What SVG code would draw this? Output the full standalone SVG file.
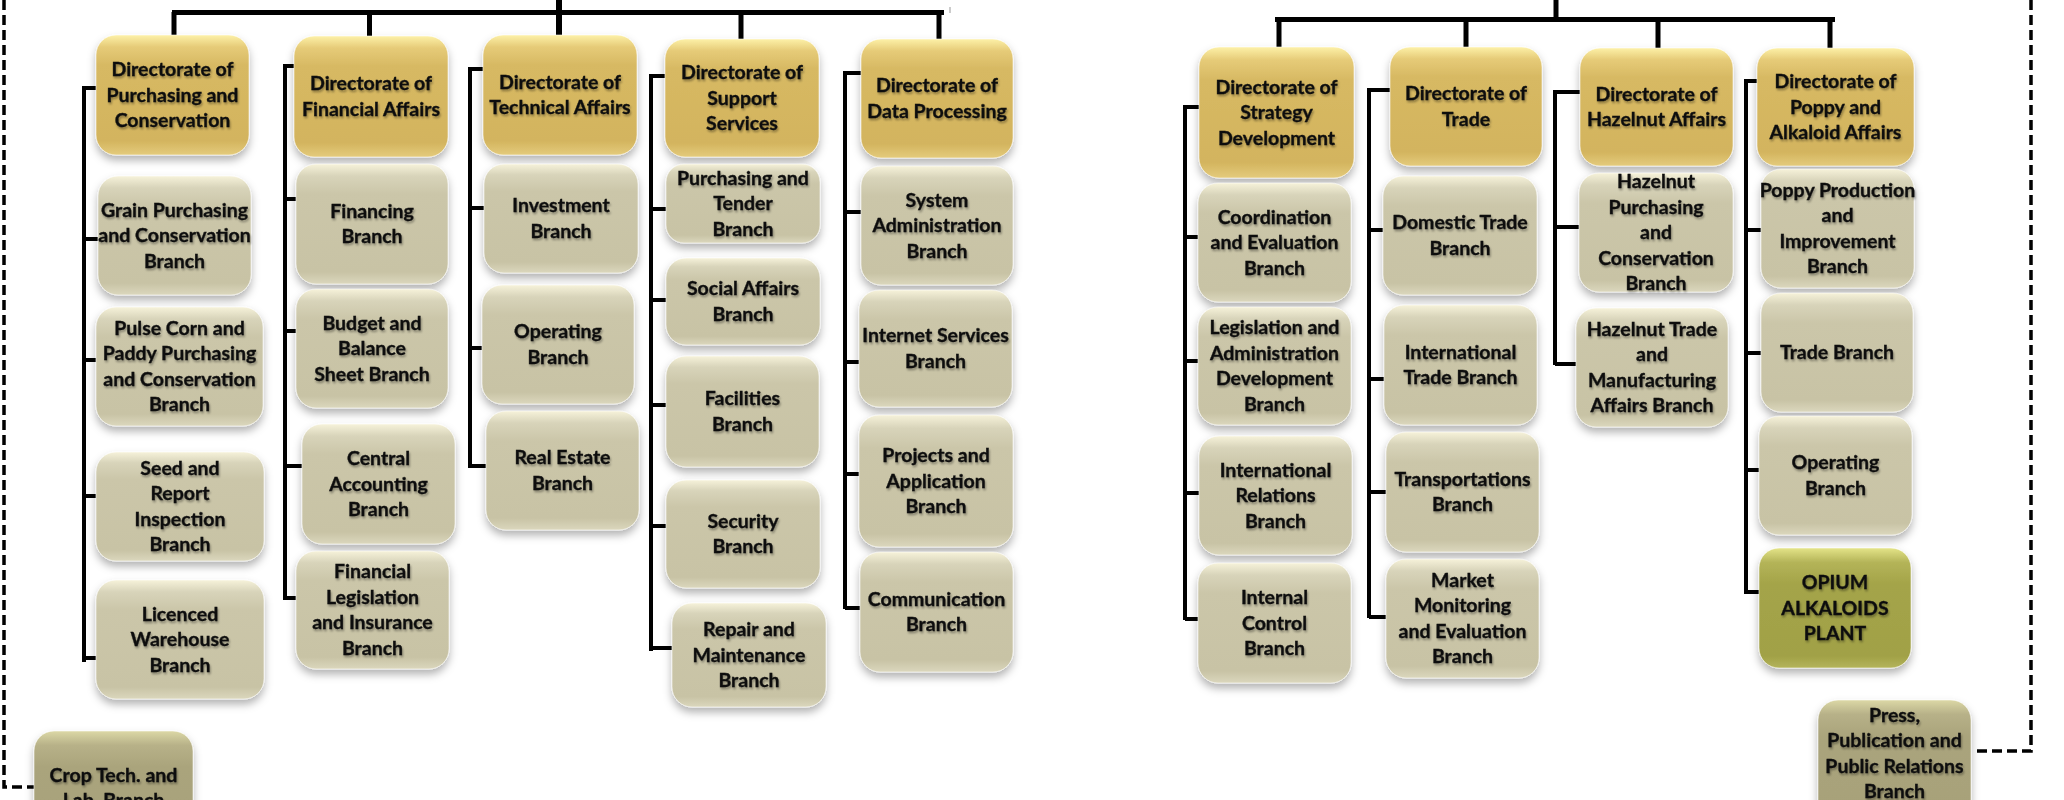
<svg xmlns="http://www.w3.org/2000/svg" width="2064" height="800" viewBox="0 0 2064 800">
<style>
.t{font-family:Lato,"Liberation Sans",sans-serif;font-weight:bold;font-size:19.5px;fill:#111;stroke:#111;stroke-width:0.35;text-anchor:middle;filter:url(#ts)}
.box{stroke:#ffffff;stroke-opacity:0.55;stroke-width:1;filter:url(#sh)}
.dir{fill:url(#gDir)}
.br{fill:url(#gBr)}
.op{fill:url(#gOp)}
.pr{fill:url(#gPr)}
.ln{stroke:#000;stroke-width:4;fill:none}
.bar{stroke:#000;stroke-width:5;fill:none}
.dash{stroke:#000;stroke-width:3.5;fill:none;stroke-dasharray:10 5}
</style>
<defs>
<filter id="sh" x="-10%" y="-10%" width="120%" height="130%">
<feDropShadow dx="0" dy="5" stdDeviation="4" flood-color="#000" flood-opacity="0.3"/>
</filter>
<filter id="ts" x="-10%" y="-20%" width="120%" height="140%">
<feGaussianBlur in="SourceAlpha" stdDeviation="1.3" result="b"/>
<feOffset dx="1" dy="1.5" in="b" result="o"/>
<feComponentTransfer in="o" result="o2"><feFuncA type="linear" slope="0.35"/></feComponentTransfer>
<feMerge><feMergeNode in="o2"/><feMergeNode in="SourceGraphic"/></feMerge>
</filter>
<linearGradient id="gDir" x1="0" y1="0" x2="0" y2="1">
<stop offset="0" stop-color="#fdf1a8"/><stop offset="0.1" stop-color="#e6cb78"/><stop offset="0.25" stop-color="#d7b963"/><stop offset="0.88" stop-color="#d3b45e"/><stop offset="1" stop-color="#e4cb7c"/>
</linearGradient>
<linearGradient id="gBr" x1="0" y1="0" x2="0" y2="1">
<stop offset="0" stop-color="#f6f2da"/><stop offset="0.1" stop-color="#d8d4ba"/><stop offset="0.25" stop-color="#cbc6a9"/><stop offset="0.9" stop-color="#c8c3a5"/><stop offset="1" stop-color="#dbd7bd"/>
</linearGradient>
<linearGradient id="gOp" x1="0" y1="0" x2="0" y2="1">
<stop offset="0" stop-color="#e4e488"/><stop offset="0.12" stop-color="#b4b458"/><stop offset="0.3" stop-color="#a4a449"/><stop offset="0.9" stop-color="#a1a146"/><stop offset="1" stop-color="#b4b45c"/>
</linearGradient>
<linearGradient id="gPr" x1="0" y1="0" x2="0" y2="1">
<stop offset="0" stop-color="#dcd8a6"/><stop offset="0.12" stop-color="#b7b188"/><stop offset="0.3" stop-color="#aaa47c"/><stop offset="1" stop-color="#a7a179"/>
</linearGradient>
</defs>
<rect width="2064" height="800" fill="#fff"/>

<g id="connectors">
<path class="dash" d="M4,0 V787 H34"/>
<path class="dash" d="M2031,0 V751 H1975"/>
<path class="bar" d="M172,12.5 H944"/>
<path d="M559,0 V38" stroke="#000" stroke-width="6"/>
<path class="bar" d="M174,12 V38 M369.5,15 V36 M741,15 V39 M939,15 V39"/>
<path d="M950,7 V13" stroke="#999" stroke-width="1"/>
<path class="ln" d="M84,86 V662 M84,88 H97 M84,239 H98 M84,360 H97 M84,496 H97 M84,658 H97"/>
<path class="ln" d="M285,64 V600 M285,66 H297 M285,199 H297 M285,331 H297 M285,466 H302 M285,598 H297"/>
<path class="ln" d="M470,67 V468 M470,69 H485 M470,208 H485 M470,348 H483 M470,466 H487"/>
<path class="ln" d="M651,74 V651 M651,76 H666 M651,209 H667 M651,300 H667 M651,405 H667 M651,526 H667 M651,648 H673"/>
<path class="ln" d="M845,71 V609 M845,73 H862 M845,212 H862 M845,362 H860 M845,474 H860 M845,608 H861"/>
<path class="bar" d="M1275,19.5 H1835"/>
<path d="M1556,0 V19" stroke="#000" stroke-width="5"/>
<path class="bar" d="M1279,22 V47 M1466,22 V47 M1658,22 V48 M1830,22 V48"/>
<path class="ln" d="M1185,105 V620 M1185,107 H1200 M1185,237 H1199 M1185,361 H1199 M1185,493 H1200 M1185,619 H1199"/>
<path class="ln" d="M1369,88 V618 M1369,90 H1391 M1369,230 H1384 M1369,379 H1385 M1369,492 H1387 M1369,617 H1387"/>
<path class="ln" d="M1555,90 V365 M1555,92 H1581 M1555,227 H1580 M1555,364 H1577"/>
<path class="ln" d="M1746,79 V594 M1746,81 H1758 M1746,230 H1762 M1746,353 H1762 M1746,470 H1760 M1746,592 H1760"/>
</g>

<g id="n-dir-purchasing"><rect class="box dir" x="96" y="35" width="153" height="120" rx="20"/><text class="t" x="172.5" y="76"><tspan x="172.5">Directorate of</tspan><tspan x="172.5" dy="25.5">Purchasing and</tspan><tspan x="172.5" dy="25.5">Conservation</tspan></text></g>
<g id="n-dir-financial"><rect class="box dir" x="294" y="36" width="154" height="121" rx="20"/><text class="t" x="371" y="90.25"><tspan x="371">Directorate of</tspan><tspan x="371" dy="25.5">Financial Affairs</tspan></text></g>
<g id="n-dir-technical"><rect class="box dir" x="483" y="35" width="154" height="120" rx="20"/><text class="t" x="560" y="88.75"><tspan x="560">Directorate of</tspan><tspan x="560" dy="25.5">Technical Affairs</tspan></text></g>
<g id="n-dir-support"><rect class="box dir" x="665" y="39" width="154" height="118" rx="20"/><text class="t" x="742" y="79"><tspan x="742">Directorate of</tspan><tspan x="742" dy="25.5">Support</tspan><tspan x="742" dy="25.5">Services</tspan></text></g>
<g id="n-dir-data"><rect class="box dir" x="861" y="39" width="152" height="119" rx="20"/><text class="t" x="937" y="92.25"><tspan x="937">Directorate of</tspan><tspan x="937" dy="25.5">Data Processing</tspan></text></g>

<g id="n-grain"><rect class="box br" x="98" y="176" width="153" height="119" rx="20"/><text class="t" x="174.5" y="216.5"><tspan x="174.5">Grain Purchasing</tspan><tspan x="174.5" dy="25.5">and Conservation</tspan><tspan x="174.5" dy="25.5">Branch</tspan></text></g>
<g id="n-pulse"><rect class="box br" x="96" y="307" width="167" height="119" rx="20"/><text class="t" x="179.5" y="334.75"><tspan x="179.5">Pulse Corn and</tspan><tspan x="179.5" dy="25.5">Paddy Purchasing</tspan><tspan x="179.5" dy="25.5">and Conservation</tspan><tspan x="179.5" dy="25.5">Branch</tspan></text></g>
<g id="n-seed"><rect class="box br" x="96" y="452" width="168" height="109" rx="20"/><text class="t" x="180" y="474.75"><tspan x="180">Seed and</tspan><tspan x="180" dy="25.5">Report</tspan><tspan x="180" dy="25.5">Inspection</tspan><tspan x="180" dy="25.5">Branch</tspan></text></g>
<g id="n-licenced"><rect class="box br" x="96" y="580" width="168" height="119" rx="20"/><text class="t" x="180" y="620.5"><tspan x="180">Licenced</tspan><tspan x="180" dy="25.5">Warehouse</tspan><tspan x="180" dy="25.5">Branch</tspan></text></g>

<g id="n-financing"><rect class="box br" x="296" y="164" width="152" height="120" rx="20"/><text class="t" x="372" y="217.75"><tspan x="372">Financing</tspan><tspan x="372" dy="25.5">Branch</tspan></text></g>
<g id="n-budget"><rect class="box br" x="296" y="289" width="152" height="119" rx="20"/><text class="t" x="372" y="329.5"><tspan x="372">Budget and</tspan><tspan x="372" dy="25.5">Balance</tspan><tspan x="372" dy="25.5">Sheet Branch</tspan></text></g>
<g id="n-central"><rect class="box br" x="302" y="424" width="153" height="120" rx="20"/><text class="t" x="378.5" y="465"><tspan x="378.5">Central</tspan><tspan x="378.5" dy="25.5">Accounting</tspan><tspan x="378.5" dy="25.5">Branch</tspan></text></g>
<g id="n-finleg"><rect class="box br" x="296" y="551" width="153" height="118" rx="20"/><text class="t" x="372.5" y="578.25"><tspan x="372.5">Financial</tspan><tspan x="372.5" dy="25.5">Legislation</tspan><tspan x="372.5" dy="25.5">and Insurance</tspan><tspan x="372.5" dy="25.5">Branch</tspan></text></g>

<g id="n-investment"><rect class="box br" x="484" y="164" width="154" height="109" rx="20"/><text class="t" x="561" y="212.25"><tspan x="561">Investment</tspan><tspan x="561" dy="25.5">Branch</tspan></text></g>
<g id="n-operating-tech"><rect class="box br" x="482" y="285" width="152" height="119" rx="20"/><text class="t" x="558" y="338.25"><tspan x="558">Operating</tspan><tspan x="558" dy="25.5">Branch</tspan></text></g>
<g id="n-realestate"><rect class="box br" x="486" y="411" width="153" height="119" rx="20"/><text class="t" x="562.5" y="464.25"><tspan x="562.5">Real Estate</tspan><tspan x="562.5" dy="25.5">Branch</tspan></text></g>

<g id="n-purchtender"><rect class="box br" x="666" y="164" width="154" height="79" rx="18"/><text class="t" x="743" y="184.5"><tspan x="743">Purchasing and</tspan><tspan x="743" dy="25.5">Tender</tspan><tspan x="743" dy="25.5">Branch</tspan></text></g>
<g id="n-social"><rect class="box br" x="666" y="258" width="154" height="87" rx="20"/><text class="t" x="743" y="295.25"><tspan x="743">Social Affairs</tspan><tspan x="743" dy="25.5">Branch</tspan></text></g>
<g id="n-facilities"><rect class="box br" x="666" y="356" width="153" height="111" rx="20"/><text class="t" x="742.5" y="405.25"><tspan x="742.5">Facilities</tspan><tspan x="742.5" dy="25.5">Branch</tspan></text></g>
<g id="n-security"><rect class="box br" x="666" y="480" width="154" height="108" rx="20"/><text class="t" x="743" y="527.75"><tspan x="743">Security</tspan><tspan x="743" dy="25.5">Branch</tspan></text></g>
<g id="n-repair"><rect class="box br" x="672" y="603" width="154" height="104" rx="20"/><text class="t" x="749" y="636"><tspan x="749">Repair and</tspan><tspan x="749" dy="25.5">Maintenance</tspan><tspan x="749" dy="25.5">Branch</tspan></text></g>

<g id="n-sysadmin"><rect class="box br" x="861" y="166" width="152" height="119" rx="20"/><text class="t" x="937" y="206.5"><tspan x="937">System</tspan><tspan x="937" dy="25.5">Administration</tspan><tspan x="937" dy="25.5">Branch</tspan></text></g>
<g id="n-internet"><rect class="box br" x="859" y="290" width="153" height="117" rx="20"/><text class="t" x="935.5" y="342.25"><tspan x="935.5">Internet Services</tspan><tspan x="935.5" dy="25.5">Branch</tspan></text></g>
<g id="n-projects"><rect class="box br" x="859" y="415" width="154" height="132" rx="20"/><text class="t" x="936" y="462"><tspan x="936">Projects and</tspan><tspan x="936" dy="25.5">Application</tspan><tspan x="936" dy="25.5">Branch</tspan></text></g>
<g id="n-communication"><rect class="box br" x="860" y="552" width="153" height="120" rx="20"/><text class="t" x="936.5" y="605.75"><tspan x="936.5">Communication</tspan><tspan x="936.5" dy="25.5">Branch</tspan></text></g>

<g id="n-crop"><rect class="box pr" x="34" y="731" width="159" height="120" rx="20"/><text class="t" x="113.5" y="781.5"><tspan x="113.5">Crop Tech. and</tspan><tspan x="113.5" dy="25.5">Lab. Branch</tspan></text></g>

<g id="n-dir-strategy"><rect class="box dir" x="1199" y="47" width="155" height="131" rx="20"/><text class="t" x="1276.5" y="93.5"><tspan x="1276.5">Directorate of</tspan><tspan x="1276.5" dy="25.5">Strategy</tspan><tspan x="1276.5" dy="25.5">Development</tspan></text></g>
<g id="n-dir-trade"><rect class="box dir" x="1390" y="47" width="152" height="119" rx="20"/><text class="t" x="1466" y="100.25"><tspan x="1466">Directorate of</tspan><tspan x="1466" dy="25.5">Trade</tspan></text></g>
<g id="n-dir-hazelnut"><rect class="box dir" x="1580" y="48" width="153" height="118" rx="20"/><text class="t" x="1656.5" y="100.75"><tspan x="1656.5">Directorate of</tspan><tspan x="1656.5" dy="25.5">Hazelnut Affairs</tspan></text></g>
<g id="n-dir-poppy"><rect class="box dir" x="1757" y="48" width="157" height="118" rx="20"/><text class="t" x="1835.5" y="88"><tspan x="1835.5">Directorate of</tspan><tspan x="1835.5" dy="25.5">Poppy and</tspan><tspan x="1835.5" dy="25.5">Alkaloid Affairs</tspan></text></g>

<g id="n-coord"><rect class="box br" x="1198" y="183" width="153" height="119" rx="20"/><text class="t" x="1274.5" y="223.5"><tspan x="1274.5">Coordination</tspan><tspan x="1274.5" dy="25.5">and Evaluation</tspan><tspan x="1274.5" dy="25.5">Branch</tspan></text></g>
<g id="n-legis"><rect class="box br" x="1198" y="307" width="153" height="118" rx="20"/><text class="t" x="1274.5" y="334.25"><tspan x="1274.5">Legislation and</tspan><tspan x="1274.5" dy="25.5">Administration</tspan><tspan x="1274.5" dy="25.5">Development</tspan><tspan x="1274.5" dy="25.5">Branch</tspan></text></g>
<g id="n-intrel"><rect class="box br" x="1199" y="436" width="153" height="119" rx="20"/><text class="t" x="1275.5" y="476.5"><tspan x="1275.5">International</tspan><tspan x="1275.5" dy="25.5">Relations</tspan><tspan x="1275.5" dy="25.5">Branch</tspan></text></g>
<g id="n-intctrl"><rect class="box br" x="1198" y="563" width="153" height="120" rx="20"/><text class="t" x="1274.5" y="604"><tspan x="1274.5">Internal</tspan><tspan x="1274.5" dy="25.5">Control</tspan><tspan x="1274.5" dy="25.5">Branch</tspan></text></g>

<g id="n-domestic"><rect class="box br" x="1383" y="176" width="154" height="119" rx="20"/><text class="t" x="1460" y="229.25"><tspan x="1460">Domestic Trade</tspan><tspan x="1460" dy="25.5">Branch</tspan></text></g>
<g id="n-inttrade"><rect class="box br" x="1384" y="305" width="153" height="120" rx="20"/><text class="t" x="1460.5" y="358.75"><tspan x="1460.5">International</tspan><tspan x="1460.5" dy="25.5">Trade Branch</tspan></text></g>
<g id="n-transport"><rect class="box br" x="1386" y="432" width="153" height="120" rx="20"/><text class="t" x="1462.5" y="485.75"><tspan x="1462.5">Transportations</tspan><tspan x="1462.5" dy="25.5">Branch</tspan></text></g>
<g id="n-market"><rect class="box br" x="1386" y="559" width="153" height="119" rx="20"/><text class="t" x="1462.5" y="586.75"><tspan x="1462.5">Market</tspan><tspan x="1462.5" dy="25.5">Monitoring</tspan><tspan x="1462.5" dy="25.5">and Evaluation</tspan><tspan x="1462.5" dy="25.5">Branch</tspan></text></g>

<g id="n-hazpurch"><rect class="box br" x="1579" y="173" width="154" height="119" rx="20"/><text class="t" x="1656" y="188"><tspan x="1656">Hazelnut</tspan><tspan x="1656" dy="25.5">Purchasing</tspan><tspan x="1656" dy="25.5">and</tspan><tspan x="1656" dy="25.5">Conservation</tspan><tspan x="1656" dy="25.5">Branch</tspan></text></g>
<g id="n-haztrade"><rect class="box br" x="1576" y="308" width="152" height="119" rx="20"/><text class="t" x="1652" y="335.75"><tspan x="1652">Hazelnut Trade</tspan><tspan x="1652" dy="25.5">and</tspan><tspan x="1652" dy="25.5">Manufacturing</tspan><tspan x="1652" dy="25.5">Affairs Branch</tspan></text></g>

<g id="n-poppyprod"><rect class="box br" x="1761" y="169" width="153" height="119" rx="20"/><text class="t" x="1837.5" y="196.75"><tspan x="1837.5">Poppy Production</tspan><tspan x="1837.5" dy="25.5">and</tspan><tspan x="1837.5" dy="25.5">Improvement</tspan><tspan x="1837.5" dy="25.5">Branch</tspan></text></g>
<g id="n-tradebranch"><rect class="box br" x="1761" y="293" width="152" height="119" rx="20"/><text class="t" x="1837" y="359">Trade Branch</text></g>
<g id="n-operating-poppy"><rect class="box br" x="1759" y="416" width="153" height="119" rx="20"/><text class="t" x="1835.5" y="469.25"><tspan x="1835.5">Operating</tspan><tspan x="1835.5" dy="25.5">Branch</tspan></text></g>
<g id="n-opium"><rect class="box op" x="1759" y="548" width="152" height="120" rx="20"/><text class="t" x="1835" y="589"><tspan x="1835">OPIUM</tspan><tspan x="1835" dy="25.5">ALKALOIDS</tspan><tspan x="1835" dy="25.5">PLANT</tspan></text></g>

<g id="n-press"><rect class="box pr" x="1818" y="700" width="153" height="120" rx="20"/><text class="t" x="1894.5" y="721.5"><tspan x="1894.5">Press,</tspan><tspan x="1894.5" dy="25.5">Publication and</tspan><tspan x="1894.5" dy="25.5">Public Relations</tspan><tspan x="1894.5" dy="25.5">Branch</tspan></text></g>
</svg>
